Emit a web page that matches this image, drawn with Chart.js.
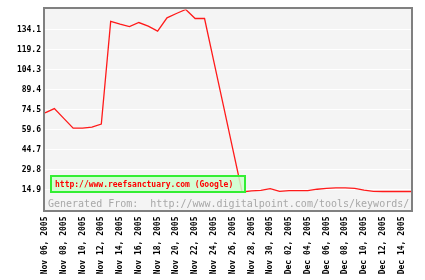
<!DOCTYPE html>
<html>
<head>
<meta charset="utf-8">
<script src="https://cdn.jsdelivr.net/npm/chart.js@4.4.1/dist/chart.umd.min.js"></script>
<style>
  html, body { margin: 0; padding: 0; background: #ffffff; }
  #wrap { width: 425px; height: 280px; position: relative; }
</style>
</head>
<body>
<div id="wrap"><canvas id="keywordChart"></canvas></div>
<script>
const dates = [
  "Nov 06, 2005", "Nov 07, 2005", "Nov 08, 2005", "Nov 09, 2005", "Nov 10, 2005",
  "Nov 11, 2005", "Nov 12, 2005", "Nov 13, 2005", "Nov 14, 2005", "Nov 15, 2005",
  "Nov 16, 2005", "Nov 17, 2005", "Nov 18, 2005", "Nov 19, 2005", "Nov 20, 2005",
  "Nov 21, 2005", "Nov 22, 2005", "Nov 23, 2005", "Nov 24, 2005", "Nov 25, 2005",
  "Nov 26, 2005", "Nov 27, 2005", "Nov 28, 2005", "Nov 29, 2005", "Nov 30, 2005",
  "Dec 01, 2005", "Dec 02, 2005", "Dec 03, 2005", "Dec 04, 2005", "Dec 05, 2005",
  "Dec 06, 2005", "Dec 07, 2005", "Dec 08, 2005", "Dec 09, 2005", "Dec 10, 2005",
  "Dec 11, 2005", "Dec 12, 2005", "Dec 13, 2005", "Dec 14, 2005", "Dec 15, 2005",
];

const searches = [
  72.0, 75.2, 67.9, 60.6, 60.6, 61.3, 63.6, 140.1, 138.1, 136.3,
  139.3, 136.6, 132.9, 142.8, 146.0, 149.0, 142.3, 142.3, 110.0, 77.7,
  45.4, 13.1, 13.9, 14.2, 15.6, 13.5, 14.0, 14.0, 14.1, 15.1,
  15.7, 16.1, 16.1, 15.7, 14.4, 13.5, 13.4, 13.4, 13.4, 13.4,
];

const yTicks = [14.9, 29.8, 44.7, 59.6, 74.5, 89.4, 104.3, 119.2, 134.1];
const yMax = 149;

const seriesLabel = "http://www.reefsanctuary.com (Google)";
const footerText = "Generated From:  http://www.digitalpoint.com/tools/keywords/";

const mono = "'DejaVu Sans Mono', 'Liberation Mono', monospace";

// plot background, frame, legend box and footer
const framePlugin = {
  id: "frame",
  beforeDraw(chart) {
    const { ctx } = chart;
    ctx.save();
    ctx.fillStyle = "#f4f4f4";
    ctx.fillRect(45, 9, 366, 201);
    ctx.restore();
  },
  beforeDatasetsDraw(chart) {
    const { ctx } = chart;
    ctx.save();
    ctx.font = "10px " + mono;
    ctx.fillStyle = "#a8a8a8";
    ctx.textBaseline = "alphabetic";
    ctx.textAlign = "left";
    ctx.fillText(footerText, 48, 207);
    ctx.restore();
  },
  afterDraw(chart) {
    const { ctx } = chart;
    ctx.save();
    ctx.fillStyle = "rgba(204, 255, 204, 0.85)";
    ctx.fillRect(50, 175, 196, 18);
    ctx.strokeStyle = "#33ee33";
    ctx.lineWidth = 2;
    ctx.strokeRect(51, 176, 194, 16);
    ctx.fillStyle = "#ff0000";
    ctx.font = "bold 8px " + mono;
    ctx.textBaseline = "middle";
    ctx.textAlign = "left";
    ctx.fillText(seriesLabel, 55, 184.5);

    ctx.strokeStyle = "#808080";
    ctx.lineWidth = 2;
    ctx.strokeRect(44, 8, 368, 203);
    ctx.restore();
  },
};

new Chart(document.getElementById("keywordChart"), {
  type: "line",
  data: {
    labels: dates,
    datasets: [
      {
        label: seriesLabel,
        data: searches,
        borderColor: "#ff1a1a",
        borderWidth: 1.3,
        pointRadius: 0,
        tension: 0,
        fill: false,
      },
    ],
  },
  options: {
    responsive: true,
    maintainAspectRatio: false,
    animation: false,
    events: [],
    layout: { padding: { top: 9.5, right: 14, bottom: 0, left: 0 } },
    plugins: {
      legend: { display: false },
      tooltip: { enabled: false },
    },
    scales: {
      x: {
        type: "category",
        offset: false,
        grid: { display: false, drawTicks: false },
        border: { display: false },
        ticks: {
          autoSkip: false,
          maxRotation: 90,
          minRotation: 90,
          padding: 7,
          color: "#000000",
          font: { family: mono, size: 8, weight: "bold" },
          callback: (v, i) => (i % 2 === 0 ? dates[i] : ""),
        },
        afterFit: (s) => {
          s.height = 70.5;
          s.paddingLeft = 0;
          s.paddingRight = 0;
        },
      },
      y: {
        min: 0,
        max: yMax,
        grid: { color: "#ffffff", lineWidth: 1, drawTicks: false },
        border: { display: false },
        afterBuildTicks: (s) => {
          s.ticks = yTicks.map((v) => ({ value: v }));
        },
        ticks: {
          padding: 4,
          color: "#000000",
          font: { family: mono, size: 8, weight: "bold" },
          callback: (v) => Number(v).toFixed(1),
        },
        afterFit: (s) => {
          s.width = 45;
          s.paddingTop = 0;
          s.paddingBottom = 0;
        },
      },
    },
  },
  plugins: [framePlugin],
});
</script>
</body>
</html>
